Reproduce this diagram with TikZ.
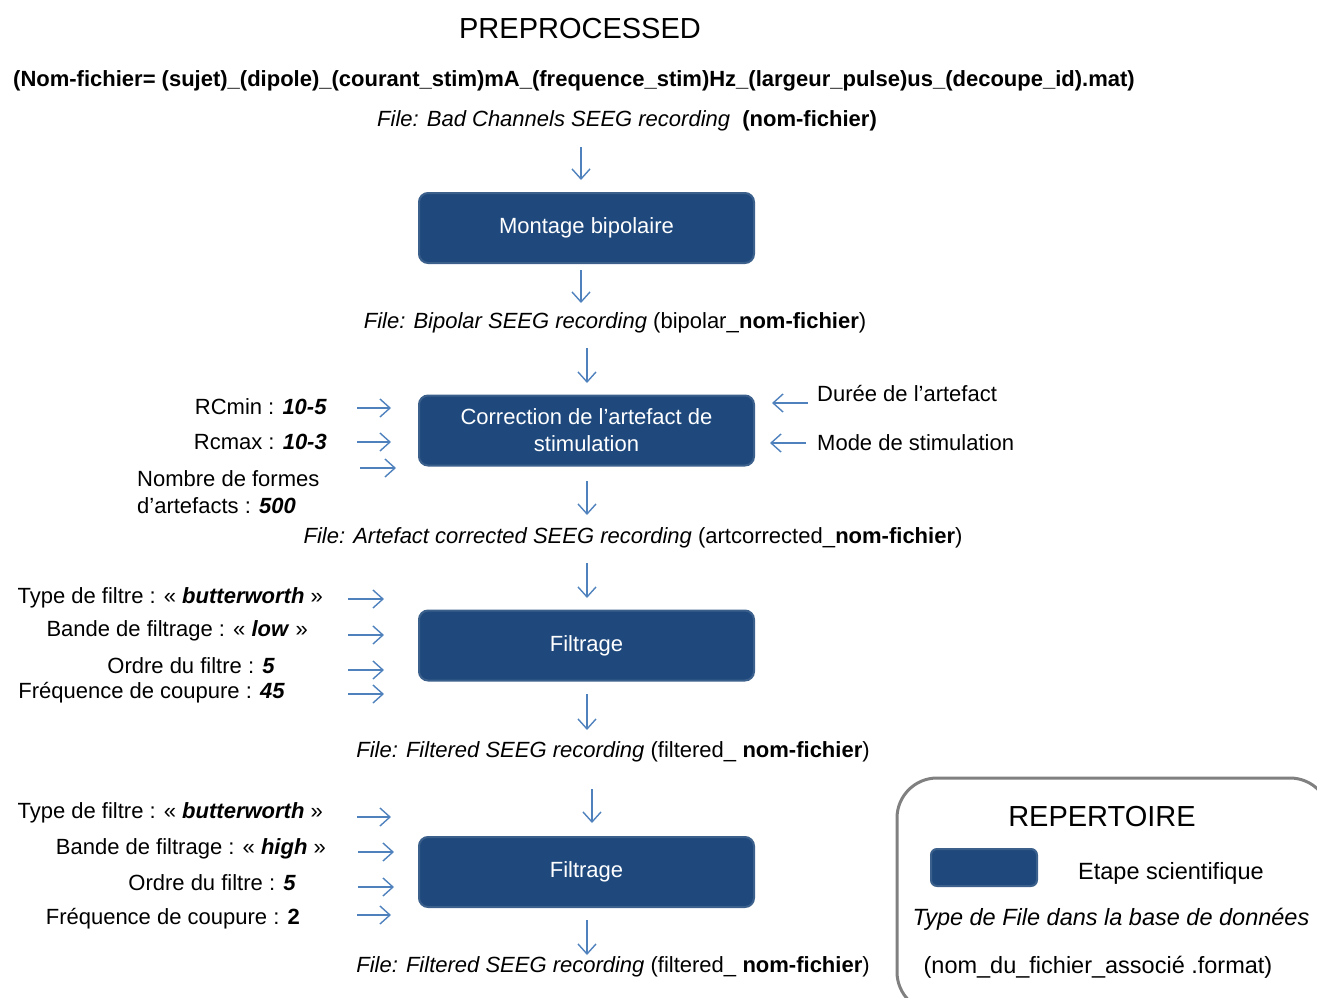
\documentclass[tikz,border=0pt]{standalone}
\usepackage{fontspec}
\setmainfont{Liberation Sans}
\usetikzlibrary{arrows.meta}
\definecolor{stepblue}{RGB}{31,73,125}
\definecolor{stepedge}{RGB}{60,96,140}
\definecolor{flowblue}{RGB}{79,129,189}
\definecolor{legendgray}{RGB}{128,128,128}
\begin{document}
\begin{tikzpicture}[x=1pt,y=-1pt,
  stepbox/.style={draw=stepedge,line width=2pt,fill=stepblue,rounded corners=9pt,
    minimum width=335pt,minimum height=70pt,text=white,
    font=\fontsize{22}{27}\selectfont,align=center,inner sep=0pt},
  flow/.style={draw=flowblue,line width=1.4pt,-{Straight Barb[length=10pt,width=18pt]}},
  txt/.style={font=\fontsize{22}{27}\selectfont,inner sep=0pt},
  legtxt/.style={font=\fontsize{23.5}{27}\selectfont,inner sep=0pt},
  bigtxt/.style={font=\fontsize{29}{32}\selectfont,inner sep=0pt},
]
\useasboundingbox (0,0) rectangle (1317,998);

% title and naming rule
\node[bigtxt] (title) at (580,29) {PREPROCESSED};
\node[txt,font=\bfseries\fontsize{22}{24}\selectfont] (naming) at (574,81)
  {(Nom-fichier= (sujet)\_(dipole)\_(courant\_stim)mA\_(frequence\_stim)Hz\_(largeur\_pulse)us\_(decoupe\_id).mat)};

% file labels
\node[txt] (f0) at (627,121) {\itshape File: Bad Channels SEEG recording\ \ \normalfont\bfseries(nom-fichier)};
\node[txt] (f1) at (615,323) {\itshape File: Bipolar SEEG recording \normalfont(bipolar\_\textbf{nom-fichier})};
\node[txt] (f2) at (633,538) {\itshape File: Artefact corrected SEEG recording \normalfont(artcorrected\_\textbf{nom-fichier})};
\node[txt] (f3) at (613,752) {\itshape File: Filtered SEEG recording \normalfont(filtered\_ \textbf{nom-fichier})};
\node[txt] (f4) at (613,967) {\itshape File: Filtered SEEG recording \normalfont(filtered\_ \textbf{nom-fichier})};

% steps
\node[stepbox] (mont) at (586.5,228) {Montage bipolaire};
\node[stepbox] (corr) at (586.5,430.5) {Correction de l’artefact de\\stimulation};
\node[stepbox] (filt1) at (586.5,645.5) {Filtrage};
\node[stepbox] (filt2) at (586.5,872) {Filtrage};

% parameters of correction
\node[txt,anchor=east] (rcmin) at (327,407) {RCmin : \textbf{\textit{10-5}}};
\node[txt,anchor=east] (rcmax) at (327,442) {Rcmax : \textbf{\textit{10-3}}};
\node[txt,anchor=west,align=left] (nbf) at (137,492.5) {Nombre de formes\\d’artefacts : \textbf{\textit{500}}};
\node[txt,anchor=west] (duree) at (817,394) {Durée de l’artefact};
\node[txt,anchor=west] (mode) at (817,443) {Mode de stimulation};

% parameters of filter 1
\node[txt,anchor=east] (t1) at (323,598) {Type de filtre : «~\textbf{\textit{butterworth}}~»};
\node[txt,anchor=east] (b1) at (308,631) {Bande de filtrage : «~\textbf{\textit{low}}~»};
\node[txt,anchor=east] (o1) at (275,666) {Ordre du filtre : \textbf{\textit{5}}};
\node[txt,anchor=east] (c1) at (285,693) {Fréquence de coupure : \textbf{\textit{45}}};

% parameters of filter 2
\node[txt,anchor=east] (t2) at (323,813) {Type de filtre : «~\textbf{\textit{butterworth}}~»};
\node[txt,anchor=east] (b2) at (326,849) {Bande de filtrage : «~\textbf{\textit{high}}~»};
\node[txt,anchor=east] (o2) at (296,883) {Ordre du filtre : \textbf{\textit{5}}};
\node[txt,anchor=east] (c2) at (300,919) {Fréquence de coupure : \textbf{2}};

% arrow end points
\foreach \n/\xa/\ya/\xb/\yb in {
  v1/581/147/581/180, v2/581/270/581/303, v3/587/348/587/383, v4/587/481/587/515,
  v5/587/563/587/598, v6/587/694/587/730, v7/592/789/592/823, v8/587/920/587/955,
  h1/357/408/391/408, h2/357/442/391/442, h3/360/468/396/468,
  r1/808/403/772/403, r2/806/443/770/443,
  p1/348/599/384/599, p2/348/635/384/635, p3/348/670/384/670, p4/348/694/384/694,
  q1/357/817/391/817, q2/358/852/394/852, q3/358/887/394/887, q4/357/915/391/915}
{
  \coordinate (\n s) at (\xa,\ya);
  \coordinate (\n e) at (\xb,\yb);
}
\foreach \n in {v1,v2,v3,v4,v5,v6,v7,v8,h1,h2,h3,r1,r2,p1,p2,p3,p4,q1,q2,q3,q4}
  \draw[flow] (\n s) -- (\n e);

% legend
\begin{scope}
  \clip (0,0) rectangle (1317,998);
  \node[draw=legendgray,line width=3pt,rounded corners=40pt,minimum width=433pt,
    minimum height=234pt,inner sep=0pt] (legend) at (1113.5,895) {};
\end{scope}
\node[bigtxt] (rep) at (1102,817) {REPERTOIRE};
\node[stepbox,minimum width=106pt,minimum height=37pt,rounded corners=6pt] (swatch) at (984,867.5) {};
\node[legtxt,anchor=west] (etape) at (1078,873) {Etape scientifique};
\node[legtxt] (typef) at (1111,919) {\itshape Type de File dans la base de données};
\node[legtxt] (nomf) at (1098,967) {(nom\_du\_fichier\_associé .format)};
\end{tikzpicture}
\end{document}
